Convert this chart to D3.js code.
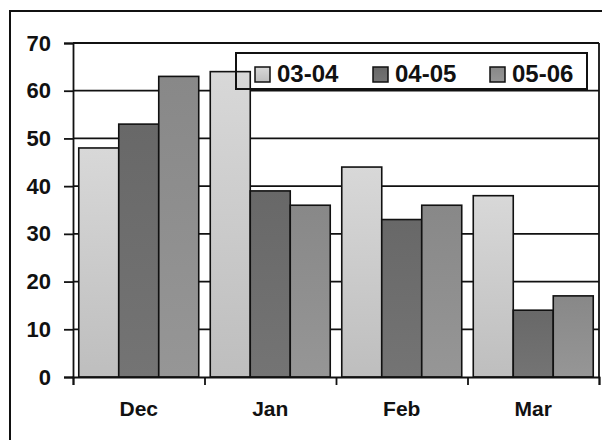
<!DOCTYPE html>
<html>
<head>
<meta charset="utf-8">
<script src="https://cdn.jsdelivr.net/npm/d3@7/dist/d3.min.js"></script>
<style>
html,body{margin:0;padding:0;background:#fff;}
svg{display:block;font-family:"Liberation Sans",Arial,sans-serif;}
</style>
</head>
<body>
<svg id="chart" width="602" height="440"></svg>
<script>
const categories = ["Dec", "Jan", "Feb", "Mar"];
const seriesNames = ["03-04", "04-05", "05-06"];
const values0304 = [48, 64, 44, 38];
const values0405 = [53, 39, 33, 14];
const values0506 = [63, 36, 36, 17];
const yTickValues = [0, 10, 20, 30, 40, 50, 60, 70];

const seriesValues = [values0304, values0405, values0506];
const gradStops = [["#d8d8d8", "#bebebe"], ["#686868", "#747474"], ["#888888", "#969696"]];

const svg = d3.select("#chart");
const plot = {left: 73, right: 599, top: 43, bottom: 377};

const defs = svg.append("defs");
seriesNames.forEach((s, i) => {
  const g = defs.append("linearGradient").attr("id", "g" + i)
    .attr("x1", 0).attr("y1", 0).attr("x2", 0).attr("y2", 1);
  g.append("stop").attr("offset", "0%").attr("stop-color", gradStops[i][0]);
  g.append("stop").attr("offset", "100%").attr("stop-color", gradStops[i][1]);
});

svg.append("rect").attr("x", 0).attr("y", 0).attr("width", 602).attr("height", 440).attr("fill", "#fff");
// outer frame
svg.append("rect").attr("x", 10).attr("y", 11).attr("width", 600).attr("height", 440)
  .attr("fill", "none").attr("stroke", "#111").attr("stroke-width", 2);

const x = d3.scaleBand().domain(categories).range([plot.left, plot.right]).paddingInner(0).paddingOuter(0);
const xs = d3.scaleBand().domain(seriesNames).range([0, x.bandwidth()]).paddingInner(0).paddingOuter(0.144);
const y = d3.scaleLinear().domain([0, 70]).range([plot.bottom, plot.top]);

// gridlines
svg.append("g").selectAll("line").data(yTickValues.filter(d => d > 0)).join("line")
  .attr("x1", plot.left).attr("x2", plot.right)
  .attr("y1", d => y(d)).attr("y2", d => y(d))
  .attr("stroke", "#111").attr("stroke-width", 1.8);
// right border
svg.append("line").attr("x1", plot.right).attr("x2", plot.right).attr("y1", plot.top).attr("y2", plot.bottom)
  .attr("stroke", "#111").attr("stroke-width", 1.8);

// bars
const data = [];
categories.forEach((c, ci) => seriesNames.forEach((s, si) => data.push({c, s, si, v: seriesValues[si][ci]})));
svg.append("g").selectAll("rect").data(data).join("rect")
  .attr("x", d => x(d.c) + xs(d.s))
  .attr("y", d => y(d.v))
  .attr("width", xs.bandwidth())
  .attr("height", d => y(0) - y(d.v))
  .attr("fill", d => "url(#g" + d.si + ")")
  .attr("stroke", "#111").attr("stroke-width", 1.6);

// y axis
const yAxis = svg.append("g").attr("transform", `translate(${plot.left},0)`)
  .call(d3.axisLeft(y).tickValues(yTickValues).tickSize(9).tickPadding(13).tickFormat(d3.format("d")));
yAxis.select(".domain").attr("stroke", "#111").attr("stroke-width", 1.8);
yAxis.selectAll(".tick line").attr("stroke", "#111").attr("stroke-width", 1.8);
yAxis.selectAll("text").attr("font-size", 22).attr("font-weight", "bold").attr("fill", "#111")
  .attr("font-family", "'Liberation Sans', Arial, sans-serif");

// x axis boundary ticks
const xb = d3.scaleLinear().domain([0, categories.length]).range([plot.left, plot.right]);
const xAxisTicks = svg.append("g").attr("transform", `translate(0,${plot.bottom})`)
  .call(d3.axisBottom(xb).tickValues(d3.range(categories.length + 1)).tickSize(8).tickFormat(""));
xAxisTicks.select(".domain").attr("stroke", "#111").attr("stroke-width", 1.8);
xAxisTicks.selectAll(".tick line").attr("stroke", "#111").attr("stroke-width", 1.8);

// x axis labels
const xAxis = svg.append("g").attr("transform", `translate(0,${plot.bottom})`)
  .call(d3.axisBottom(x).tickSize(0).tickPadding(0));
xAxis.select(".domain").remove();
xAxis.selectAll("text").attr("y", 39).attr("dy", 0)
  .attr("font-size", 21).attr("font-weight", "bold").attr("fill", "#111")
  .attr("font-family", "'Liberation Sans', Arial, sans-serif");

// legend
const legend = svg.append("g");
legend.append("rect").attr("x", 236).attr("y", 53).attr("width", 351).attr("height", 36)
  .attr("fill", "none").attr("stroke", "#111").attr("stroke-width", 2);
const legendX = [255, 373, 490];
seriesNames.forEach((s, i) => {
  legend.append("rect").attr("x", legendX[i]).attr("y", 67).attr("width", 15).attr("height", 15)
    .attr("fill", "url(#g" + i + ")").attr("stroke", "#111").attr("stroke-width", 1.5);
  legend.append("text").attr("x", legendX[i] + 22).attr("y", 82).text(s)
    .attr("font-size", 24).attr("font-weight", "bold").attr("fill", "#111");
});
</script>
</body>
</html>
